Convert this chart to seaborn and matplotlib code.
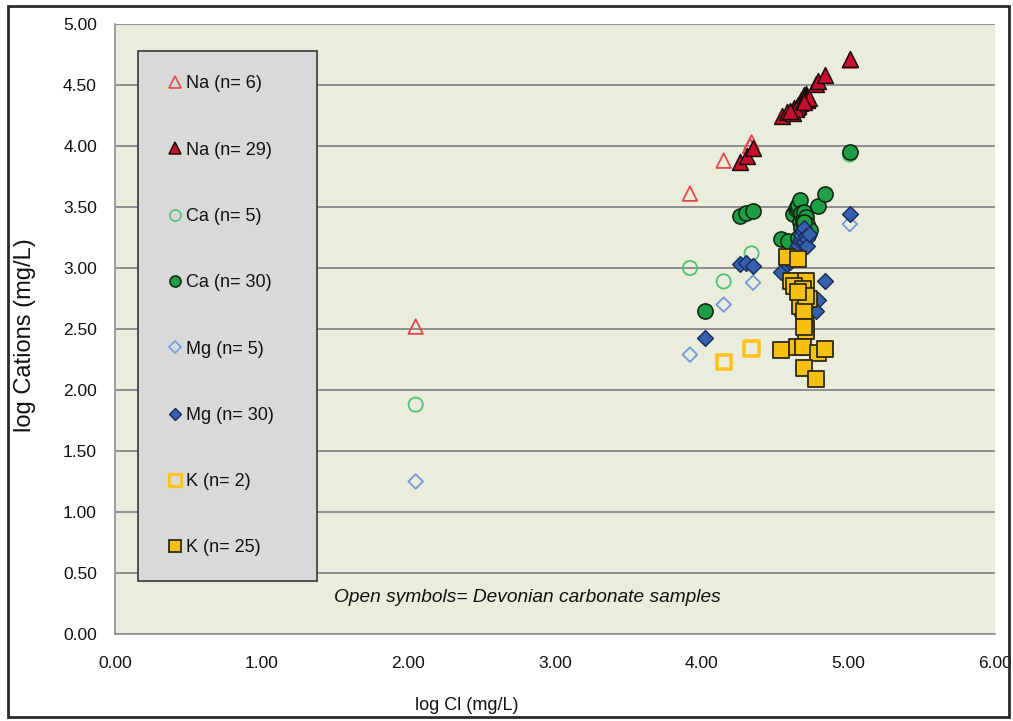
import matplotlib
matplotlib.use("Agg")
import matplotlib.pyplot as plt
from matplotlib.lines import Line2D
from matplotlib.patches import Rectangle
import numpy as np
import pandas as pd
import seaborn as sns

# ---- data: log Cl vs log cation concentration (mg/L) ----
na_open_x = [2.05, 3.92, 4.15, 4.33, 4.34, 5.01]
na_open_y = [2.52, 3.61, 3.88, 4.00, 4.03, 4.70]

na_fill_x = [4.26, 4.31, 4.35, 4.55, 4.58, 4.62, 4.63, 4.65, 4.66, 4.67,
             4.68, 4.68, 4.69, 4.70, 4.70, 4.71, 4.71, 4.72, 4.72, 4.73,
             4.66, 4.64, 4.69, 4.70, 4.78, 4.79, 4.84, 5.01, 4.60]
na_fill_y = [3.87, 3.92, 3.98, 4.25, 4.28, 4.27, 4.31, 4.32, 4.34, 4.35,
             4.36, 4.38, 4.39, 4.40, 4.42, 4.43, 4.41, 4.40, 4.38, 4.39,
             4.33, 4.30, 4.37, 4.36, 4.51, 4.53, 4.58, 4.71, 4.29]

ca_open_x = [2.05, 3.92, 4.15, 4.34, 5.01]
ca_open_y = [1.88, 3.00, 2.89, 3.12, 3.93]

ca_fill_x = [4.02, 4.26, 4.30, 4.35, 4.54, 4.59, 4.62, 4.64, 4.65, 4.66,
             4.67, 4.67, 4.68, 4.68, 4.69, 4.69, 4.70, 4.70, 4.71, 4.71,
             4.72, 4.72, 4.73, 4.74, 4.66, 4.68, 4.70, 4.79, 4.84, 5.01]
ca_fill_y = [2.65, 3.43, 3.45, 3.47, 3.24, 3.22, 3.44, 3.48, 3.50, 3.52,
             3.56, 3.38, 3.33, 3.45, 3.40, 3.30, 3.46, 3.35, 3.28, 3.42,
             3.36, 3.32, 3.29, 3.31, 3.25, 3.20, 3.38, 3.51, 3.61, 3.95]

mg_open_x = [2.05, 3.92, 4.15, 4.35, 5.01]
mg_open_y = [1.25, 2.29, 2.70, 2.88, 3.36]

mg_fill_x = [4.02, 4.26, 4.30, 4.35, 4.54, 4.58, 4.60, 4.62, 4.64, 4.65,
             4.66, 4.67, 4.68, 4.68, 4.69, 4.70, 4.70, 4.71, 4.72, 4.72,
             4.73, 4.68, 4.70, 4.71, 4.72, 4.69, 4.79, 4.78, 4.84, 5.01]
mg_fill_y = [2.43, 3.03, 3.04, 3.02, 2.97, 3.03, 3.05, 3.10, 3.13, 3.17,
             3.19, 3.22, 3.24, 3.27, 3.30, 3.33, 3.21, 3.26, 3.24, 3.18,
             3.28, 2.75, 2.68, 2.60, 2.80, 2.57, 2.74, 2.65, 2.89, 3.44]

k_open_x = [4.15, 4.34]
k_open_y = [2.23, 2.34]

k_fill_x = [4.58, 4.66, 4.61, 4.71, 4.63, 4.68, 4.73, 4.68, 4.69, 4.70,
            4.67, 4.70, 4.71, 4.71, 4.70, 4.54, 4.65, 4.69, 4.79, 4.84,
            4.70, 4.78, 4.69, 4.71, 4.66]
k_fill_y = [3.09, 3.07, 2.89, 2.89, 2.85, 2.79, 2.75, 2.71, 2.67, 2.73,
            2.69, 2.65, 2.51, 2.48, 2.52, 2.33, 2.35, 2.355, 2.30, 2.34,
            2.18, 2.09, 2.83, 2.77, 2.80]

legend_labels = ["Na (n= 6)", "Na (n= 29)", "Ca (n= 5)", "Ca (n= 30)",
                 "Mg (n= 5)", "Mg (n= 30)", "K (n= 2)", "K (n= 25)"]
x_ticks = [0, 1, 2, 3, 4, 5, 6]
y_ticks = [0.0, 0.5, 1.0, 1.5, 2.0, 2.5, 3.0, 3.5, 4.0, 4.5, 5.0]

# ---- styling of each series (drawn in this order) ----
series = [
    # x, y, marker, size, face, edge, lw, legend marker size
    (na_open_x, na_open_y, "^", 110, "none", "#E0474C", 1.3, 8),
    (na_fill_x, na_fill_y, "^", 130, "#C8102E", "#1A0A0A", 1.1, 8),
    (ca_open_x, ca_open_y, "o", 105, "none", "#4CC276", 1.3, 8),
    (ca_fill_x, ca_fill_y, "o", 120, "#1E9E45", "#102010", 1.1, 8),
    (mg_open_x, mg_open_y, "D", 55, "none", "#6F9AE0", 1.3, 6),
    (mg_fill_x, mg_fill_y, "D", 65, "#3560B0", "#1A2A55", 1.0, 6),
    (k_open_x, k_open_y, "s", 105, "none", "#FFC21A", 2.6, 8),
    (k_fill_x, k_fill_y, "s", 120, "#F8C00E", "#2E2A10", 1.3, 8),
]

sns.set_theme(style="white")
plt.rcParams["font.family"] = ["Liberation Sans", "DejaVu Sans"]

fig = plt.figure(figsize=(10.13, 7.21), dpi=100)
W, H = 1013, 721
ax = fig.add_axes([115 / W, 1 - 634 / H, 880 / W, 610 / H])
ax.set_facecolor("#EAEDDB")
fig.patch.set_facecolor("white")

for (xs, ys, mk, sz, fc, ec, lw, _) in series:
    df = pd.DataFrame({"cl": xs, "cation": ys})
    sns.scatterplot(data=df, x="cl", y="cation", ax=ax, marker=mk, s=sz,
                    facecolor=fc, edgecolor=ec, linewidth=lw, legend=False,
                    zorder=3)

ax.set_xlim(0, 6)
ax.set_ylim(0, 5)
ax.set_xticks(x_ticks)
ax.set_xticklabels([f"{v:.2f}" for v in x_ticks])
ax.set_yticks(y_ticks)
ax.set_yticklabels([f"{v:.2f}" for v in y_ticks])
ax.yaxis.grid(True, color="#8E8E8E", linewidth=1.4)
ax.xaxis.grid(False)
ax.set_axisbelow(True)

for side in ["top", "right"]:
    ax.spines[side].set_visible(False)
for side in ["left", "bottom"]:
    ax.spines[side].set_color("#8E8E8E")
    ax.spines[side].set_linewidth(1.2)

ax.tick_params(axis="both", which="major", direction="out", length=5,
               width=1.0, color="#8E8E8E", labelsize=12.5, labelcolor="#111111")
ax.tick_params(axis="y", pad=8)
ax.tick_params(axis="x", pad=11)

ax.set_xlabel("log Cl (mg/L)", fontsize=13, color="#111111")
ax.set_ylabel("log Cations (mg/L)", fontsize=17, color="#111111")
ax.xaxis.set_label_coords((467 - 115) / 880, (634 - 697) / 610)
ax.yaxis.set_label_coords((36 - 115) / 880, (634 - 335) / 610)

ax.text(1.49, 0.30, "Open symbols= Devonian carbonate samples",
        fontsize=13.8, style="italic", color="#111111", va="center", ha="left")

# legend panel
handles = []
for (xs, ys, mk, sz, fc, ec, lw, lms) in series:
    handles.append(Line2D([], [], linestyle="none", marker=mk, markersize=lms,
                          markerfacecolor=fc, markeredgecolor=ec,
                          markeredgewidth=lw if fc != "none" else lw * 0.9))
leg = ax.legend(handles, legend_labels, loc="upper left",
                bbox_to_anchor=((138 - 115) / 880, (634 - 50.5) / 610,
                                (317 - 138) / 880, 0.0),
                mode="expand", fontsize=13, labelspacing=2.73,
                borderpad=1.38, handlelength=1.3, handletextpad=0.0,
                borderaxespad=0.0, frameon=True, fancybox=False)
frame = leg.get_frame()
frame.set_facecolor("#D9D9D9")
frame.set_edgecolor("#3A3A3A")
frame.set_linewidth(1.2)
frame.set_alpha(1.0)
for t in leg.get_texts():
    t.set_color("#111111")

# outer border of the chart area
fig.patches.append(Rectangle((8 / W, 4 / H), (1009 - 8) / W, (716 - 5) / H,
                             transform=fig.transFigure, fill=False,
                             edgecolor="#2A2A2A", linewidth=2.0))

fig.savefig("out.png", dpi=100)
